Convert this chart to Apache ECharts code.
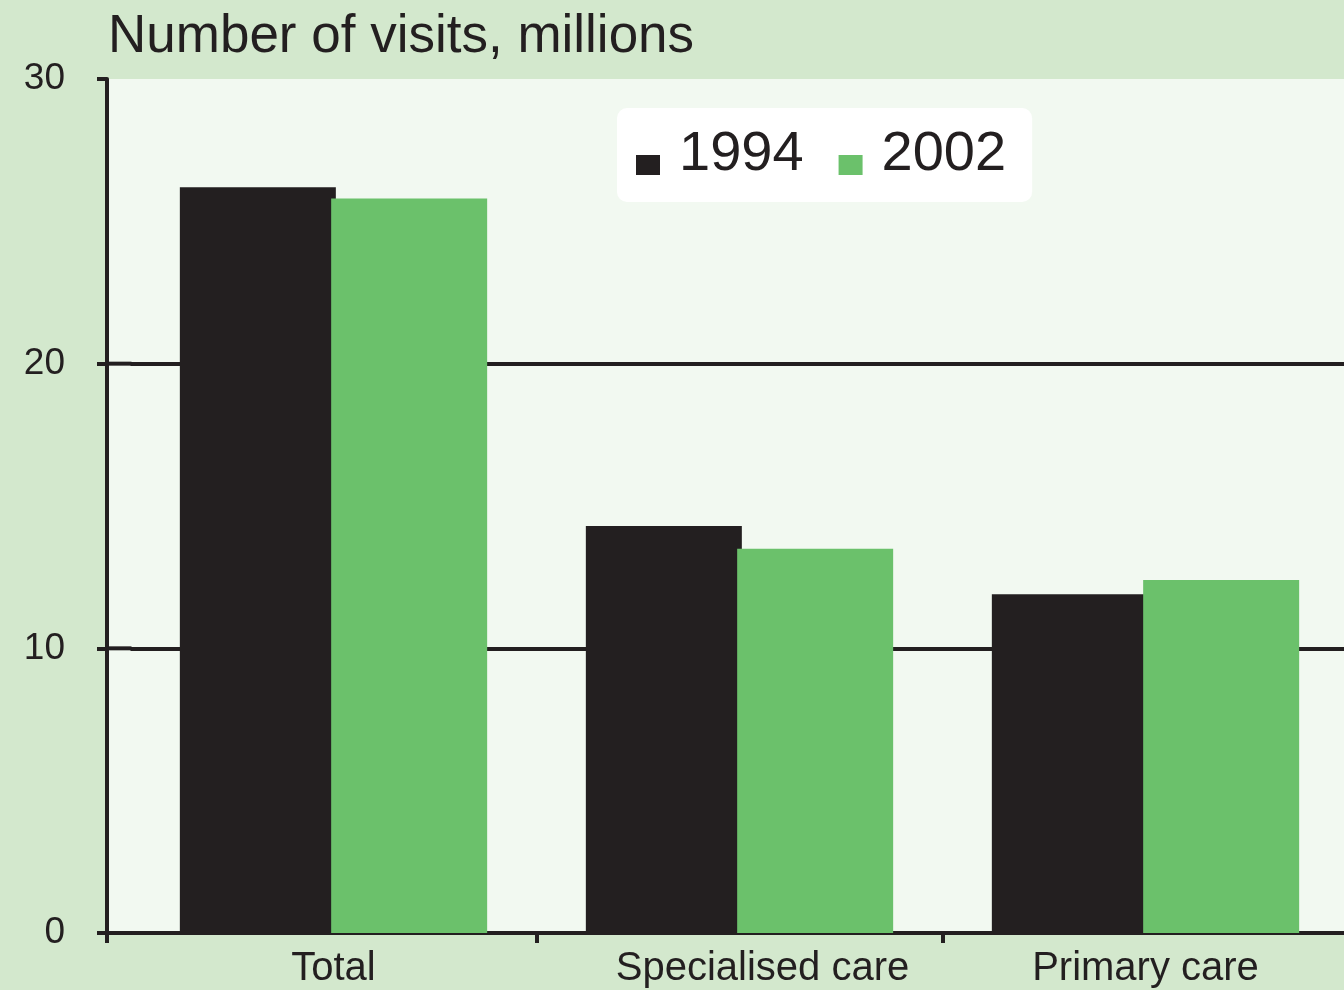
<!DOCTYPE html>
<html>
<head>
<meta charset="utf-8">
<script src="https://cdn.jsdelivr.net/npm/echarts@6/dist/echarts.min.js"></script>
<style>
html,body{margin:0;padding:0;background:#d3e8cd;}
#chart{width:1344px;height:990px;}
</style>
</head>
<body>
<div id="chart"></div>
<script>
var categories = ['Total', 'Specialised care', 'Primary care'];
var values1994 = [26.2, 14.3, 11.9];
var values2002 = [25.8, 13.5, 12.4];
var seriesNames = ['1994', '2002'];
var yTicks = { min: 0, max: 30, interval: 10 };
var titleText = 'Number of visits, millions';

var DARK = '#231f20', GREEN = '#6bc16b', OUTER = '#d3e8cd', PLOT = '#f2f9f1';
var FONT = '"Liberation Sans", Arial, sans-serif';
var AXIS_X = 107, GRID_LEFT = 130.5, GRID_WIDTH = 1218, GRID_TOP = 79, GRID_BOTTOM = 57;

// category axis entries (label of the middle category sits a little right of its centre in the original)
var xAxisData = categories.map(function (c, i) {
  return i === 1 ? { value: c, textStyle: { padding: [0, 0, 0, 46] } } : c;
});

var chart = echarts.init(document.getElementById('chart'), null, {renderer: 'canvas'});
var option = {
  backgroundColor: OUTER,
  animation: false,
  title: {
    text: titleText, left: 103, top: 6,
    textStyle: { fontFamily: FONT, fontSize: 53, fontWeight: 'normal', color: DARK }
  },
  legend: {
    data: seriesNames, left: 617, top: 108,
    backgroundColor: '#ffffff', borderRadius: 10,
    padding: [19, 26, 19, 19], itemGap: 35, itemWidth: 24, itemHeight: 40,
    // square sitting in the lower half of the item (top half is an empty, zero-area guide)
    icon: 'path://M0,0L24,0Z M0,20L24,20L24,40L0,40Z',
    textStyle: { fontFamily: FONT, fontSize: 56, color: DARK, padding: [0, 0, 0, 14] }
  },
  grid: { left: GRID_LEFT, width: GRID_WIDTH, top: GRID_TOP, bottom: GRID_BOTTOM,
    containLabel: false, outerBoundsMode: 'none' },
  xAxis: {
    type: 'category', data: xAxisData,
    axisLine: { lineStyle: { color: DARK, width: 4 } },
    axisTick: { show: true, length: 10, lineStyle: { color: DARK, width: 4 },
      interval: function (i) { return i > 0; } },
    axisLabel: { fontFamily: FONT, fontSize: 40, color: DARK, margin: 16 }
  },
  yAxis: {
    type: 'value', min: yTicks.min, max: yTicks.max, interval: yTicks.interval,
    offset: GRID_LEFT - AXIS_X,
    axisLine: { show: true, lineStyle: { color: DARK, width: 4 } },
    axisTick: { show: true, length: 10, lineStyle: { color: DARK, width: 4 } },
    axisLabel: { fontFamily: FONT, fontSize: 37, color: DARK, margin: 42 },
    splitLine: { show: true, showMinLine: false, showMaxLine: false, lineStyle: { color: DARK, width: 4 } }
  },
  series: [
    { name: seriesNames[0], type: 'bar', data: values1994, barWidth: 156, barGap: '-3%',
      itemStyle: { color: DARK } },
    { name: seriesNames[1], type: 'bar', data: values2002, barWidth: 156,
      itemStyle: { color: GREEN } }
  ]
};
chart.setOption(option);

// plot background and axis/gridline extensions left of the grid, positions from the library's scale
var y0 = chart.convertToPixel({yAxisIndex: 0}, 0);
var yTop = chart.convertToPixel({yAxisIndex: 0}, yTicks.max);
var elems = [
  { type: 'rect', z: -10, shape: { x: AXIS_X, y: yTop, width: 1344 - AXIS_X, height: y0 - yTop },
    style: { fill: PLOT } },
  { type: 'line', z: 10, shape: { x1: AXIS_X, y1: y0, x2: GRID_LEFT + 1, y2: y0 },
    style: { stroke: DARK, lineWidth: 4 } },
  { type: 'line', z: 10, shape: { x1: AXIS_X, y1: y0, x2: AXIS_X, y2: y0 + 10 },
    style: { stroke: DARK, lineWidth: 4 } }
];
for (var v = yTicks.min + yTicks.interval; v < yTicks.max; v += yTicks.interval) {
  var yy = chart.convertToPixel({yAxisIndex: 0}, v);
  elems.push({ type: 'line', z: 10, shape: { x1: AXIS_X, y1: yy, x2: GRID_LEFT + 1, y2: yy },
    style: { stroke: DARK, lineWidth: 4 } });
}
chart.setOption({ graphic: { elements: elems } });
</script>
</body>
</html>
